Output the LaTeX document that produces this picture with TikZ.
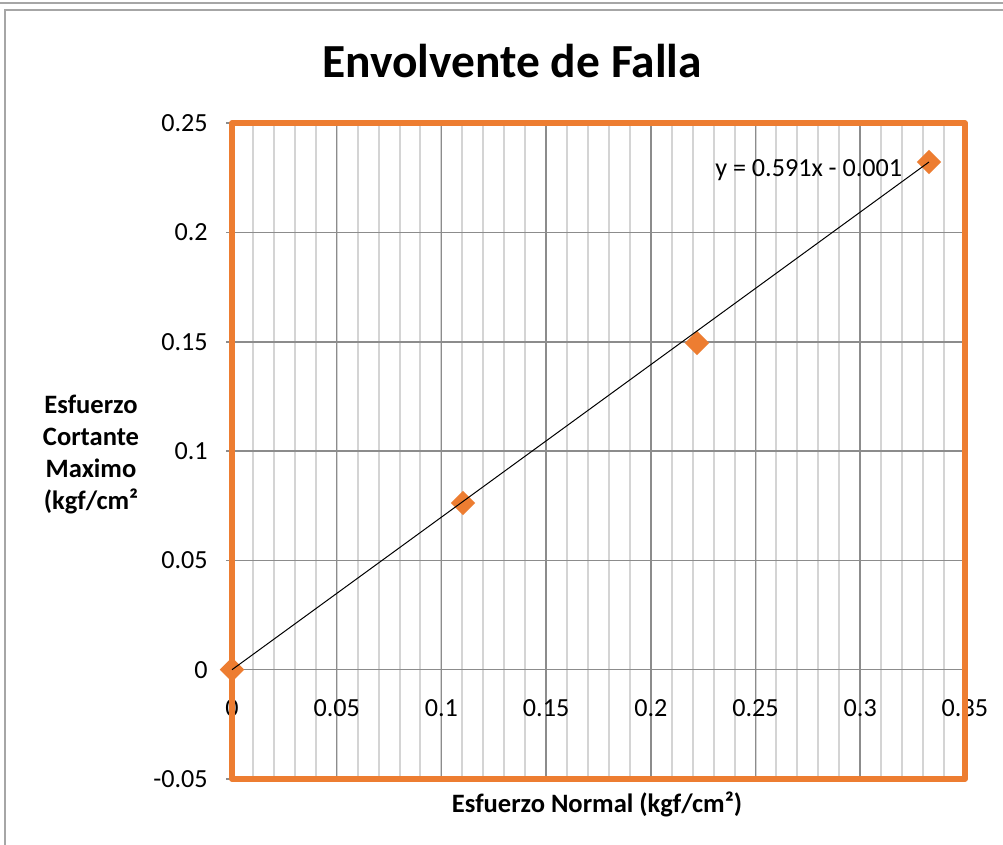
\documentclass[tikz,border=0pt]{standalone}
\usepackage{fontspec}
\setmainfont{Carlito}
\usetikzlibrary{shapes.geometric}
\definecolor{xlorange}{HTML}{ED7D31}
\definecolor{gridmajor}{HTML}{8C8C8C}
\definecolor{gridminor}{HTML}{D4D4D4}
\definecolor{framegray}{HTML}{A6A6A6}
\tikzset{
  txt/.style={inner sep=0pt, font=\fontsize{19.6}{23}\selectfont},
  btxt/.style={inner sep=0pt, font=\fontsize{19.9}{23}\selectfont\bfseries},
  minorgrid/.style={draw=gridminor, line width=1.5pt},
  majorgrid/.style={draw=gridmajor, line width=1.1pt},
  plotborder/.style={draw=xlorange, line width=3.9pt},
  dia/.style={diamond, fill=xlorange, draw=none, minimum width=18.5pt, minimum height=18.5pt, inner sep=0pt},
  trend/.style={draw=black, line width=0.75pt},
}
\begin{document}
\begin{tikzpicture}[x=0.75pt,y=-0.75pt]
\useasboundingbox (0,0) rectangle (1003,845);
\fill[white] (0,0) rectangle (1003,845);
% outer frame
\draw[framegray, line width=1.2pt] (0,3) -- (1003,3);
\draw[framegray, line width=1.2pt] (1003,10) -- (5,10) -- (5,845);
% title
\node[inner sep=0pt, anchor=base, font=\fontsize{35.6}{40}\selectfont\bfseries] (title) at (512,78) {Envolvente de Falla};
% axis titles
\node[btxt, anchor=base] (xt) at (597,812) {Esfuerzo Normal (kgf/cm²)};
\node[btxt, anchor=base] (yt1) at (91,413) {Esfuerzo};
\node[btxt, anchor=base] (yt2) at (91,445) {Cortante};
\node[btxt, anchor=base] (yt3) at (91,477) {Maximo};
\node[btxt, anchor=base] (yt4) at (91,509) {(kgf/cm²};
% minor vertical grid
\foreach \k in {1,...,34} {
  \draw[minorgrid] ({232+20.94*\k},123) -- ({232+20.94*\k},779);
}
% major vertical grid
\foreach \k in {1,...,6} {
  \draw[majorgrid] ({232+104.7*\k},123) -- ({232+104.7*\k},779);
}
% horizontal major grid and axis
\foreach \k in {1,...,5} {
  \draw[majorgrid] (232,{779-109.3*\k}) -- (965,{779-109.3*\k});
}
% ticks
\foreach \k in {0,...,6} {
  \draw[majorgrid] (226,{779-109.3*\k}) -- (232,{779-109.3*\k});
}
\foreach \k in {1,...,6} {
  \draw[majorgrid] ({232+104.7*\k},669.7) -- ({232+104.7*\k},676);
}
% tick labels
\foreach \v/\k/\n in {0.25/6/ya,0.2/5/yb,0.15/4/yc,0.1/3/yd,0.05/2/ye,0/1/yf,-0.05/0/yg} {
  \node[txt, anchor=east] (\n) at (208,{779-109.3*\k}) {\v};
}
\foreach \v/\k/\n in {0/0/xa,0.05/1/xb,0.1/2/xc,0.15/3/xd,0.2/4/xe,0.25/5/xf,0.3/6/xg,0.35/7/xh} {
  \node[txt, anchor=base] (\n) at ({232+104.7*\k},716) {\v};
}
% plot border
\draw[plotborder, line join=round] (232,123) rectangle (965,779);
% data points
\node[dia] (p1) at (232,669.7) {};
\node[dia] (p2) at (463,503) {};
\node[dia] (p3) at (697,343) {};
\node[dia] (p4) at (929,162) {};
% trend line
\draw[trend] (p1.center) -- (p4.center);
% equation
\node[txt, anchor=base west] (eq) at (715,176) {y = 0.591x - 0.001};
\end{tikzpicture}
\end{document}
